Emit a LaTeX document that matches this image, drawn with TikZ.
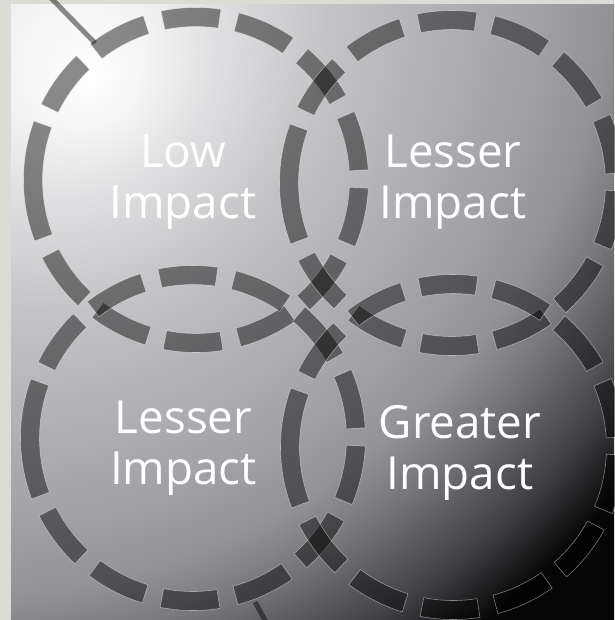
\documentclass[tikz,border=0pt]{standalone}
\usepackage{fontspec}
\newfontfamily\quadfont{Open Sans}
\usetikzlibrary{positioning}
\definecolor{matte}{HTML}{DCDCD7}
\definecolor{shA}{HTML}{FFFFFF}
\definecolor{shB}{HTML}{F6F6F6}
\definecolor{shC}{HTML}{E0E0E2}
\definecolor{shD}{HTML}{C3C3C6}
\definecolor{shE}{HTML}{ADADB1}
\definecolor{shF}{HTML}{A1A1A6}
\definecolor{shG}{HTML}{929297}
\definecolor{shH}{HTML}{76767B}
\definecolor{shI}{HTML}{404044}
\definecolor{shJ}{HTML}{060606}
\pgfdeclareradialshading{backdrop}{\pgfpoint{10.6bp}{-10.6bp}}{%
  color(0bp)=(shA); color(0.75bp)=(shB); color(1.9bp)=(shC);
  color(3.75bp)=(shD); color(5.9bp)=(shE); color(7bp)=(shF);
  color(8.25bp)=(shG); color(9.2bp)=(shH); color(10.75bp)=(shI);
  color(11.9bp)=(shJ); color(50bp)=(black)}
\tikzset{
  ringdash/.style={fill=black, fill opacity=.45, draw=white, draw opacity=.45, line width=.6pt},
  lead/.style={draw=black, draw opacity=.45, line width=5pt},
  impact/.style={text=white, align=center, inner sep=0pt, font=\quadfont\fontsize{45.7}{51}\selectfont},
}
% one dashed ring, r = 163, width 19, long dash on the left
\newcommand\dashring[1]{%
  \begin{scope}[shift={(#1)}]
    \foreach \k in {0,...,12}{
      \pgfmathsetmacro\a{\k==0 ? 159.3 : 180+26.1*\k}
      \pgfmathsetmacro\b{180+26.1*\k+20}
      \filldraw[ringdash] (\a:172.5) arc[start angle=\a, end angle=\b, radius=172.5]
        -- (\b:153.5) arc[start angle=\b, end angle=\a, radius=153.5] -- cycle;
    }
  \end{scope}}

\begin{document}
\begin{tikzpicture}[x=1pt, y=-1pt]
  \useasboundingbox (0,0) rectangle (614,620);
  \fill[matte] (0,0) rectangle (614,620);
  \begin{scope}
    \clip (11,5) rectangle (614,620);
    \shade[shading=backdrop] (-754,-769) circle (2000);
  \end{scope}

  \coordinate (low) at (196,180);
  \coordinate (lesserR) at (452,183);
  \coordinate (lesserL) at (193,438);
  \coordinate (greater) at (453,447);

  \dashring{low}
  \dashring{lesserR}
  \dashring{lesserL}
  \dashring{greater}

  \coordinate (leadA) at (50,-3);
  \coordinate (leadB) at (95,43);
  \coordinate (leadC) at (255,602);
  \coordinate (leadD) at (267,624);
  \draw[lead] (leadA) -- (leadB);
  \draw[lead] (leadC) -- (leadD);

  \node[impact] (lowtxt) at (183,181.7) {Low\\Impact};
  \node[impact] (lesserRtxt) at (453,181.7) {Lesser\\Impact};
  \node[impact] (lesserLtxt) at (183.5,447.7) {Lesser\\Impact};
  \node[impact] (greatertxt) at (460,452.7) {Greater\\Impact};
\end{tikzpicture}
\end{document}
